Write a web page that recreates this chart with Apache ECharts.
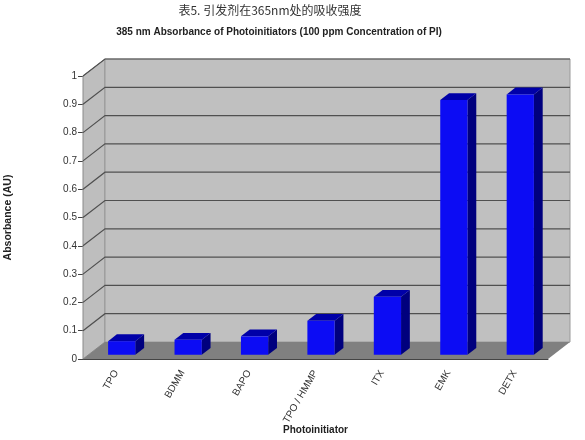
<!DOCTYPE html>
<html>
<head>
<meta charset="utf-8">
<script src="https://cdn.jsdelivr.net/npm/echarts@6/dist/echarts.min.js"></script>
<style>
  html, body { margin: 0; padding: 0; background: #fff; }
  #chart { width: 585px; height: 440px; }
</style>
</head>
<body>
<div id="chart"></div>
<script>
const categories = ['TPO', 'BDMM', 'BAPO', 'TPO / HMMP', 'ITX', 'EMK', 'DETX'];
const absorbance = [0.048, 0.053, 0.065, 0.12, 0.205, 0.9, 0.92];
const yTicks = [0, 0.1, 0.2, 0.3, 0.4, 0.5, 0.6, 0.7, 0.8, 0.9, 1];

// depth of the fake 3d box, in pixels
const DX = 22;
const DY = -17;
const barFront = 0.25;
const barBack = 0.65;
const barWidth = 0.41;

const chart = echarts.init(document.getElementById('chart'));

function renderWalls(params, api) {
    const cs = params.coordSys;
    const x0 = cs.x, x1 = cs.x + cs.width;
    const yt = cs.y, yb = cs.y + cs.height;
    const children = [
        {
            type: 'polygon',
            shape: { points: [[x0, yb], [x0, yt], [x0 + DX, yt + DY], [x0 + DX, yb + DY]] },
            style: { fill: '#bebebe', stroke: '#8a8a8a', lineWidth: 1 },
        },
        {
            type: 'rect',
            shape: { x: x0 + DX, y: yt + DY, width: x1 - x0, height: yb - yt },
            style: { fill: '#c0c0c0', stroke: '#9a9a9a', lineWidth: 1 },
        },
        {
            type: 'polygon',
            shape: { points: [[x0, yb], [x1, yb], [x1 + DX, yb + DY], [x0 + DX, yb + DY]] },
            style: { fill: '#808080' },
        },
    ];
    yTicks.forEach((v) => {
        if (v === 0) return;
        const y = api.coord([0, v])[1];
        children.push({
            type: 'polyline',
            shape: { points: [[x0, y], [x0 + DX, y + DY], [x1 + DX, y + DY]] },
            style: { fill: null, stroke: '#505050', lineWidth: 1.2 },
        });
    });
    return { type: 'group', children: children };
}

function renderBar(params, api) {
    const idx = api.value(0);
    const top = api.coord([idx, api.value(1)]);
    const base = api.coord([idx, 0]);
    const w = api.size([1, 0])[0] * barWidth;
    const L = top[0] - w / 2, R = top[0] + w / 2;
    const T = top[1], B = base[1];
    const fx = barFront * DX, fy = barFront * DY;
    const bx = barBack * DX, by = barBack * DY;
    return {
        type: 'group',
        children: [
            {
                type: 'polygon',
                shape: { points: [[R + fx, T + fy], [R + bx, T + by], [R + bx, B + by], [R + fx, B + fy]] },
                style: { fill: '#00007e' },
            },
            {
                type: 'polygon',
                shape: { points: [[L + fx, T + fy], [R + fx, T + fy], [R + bx, T + by], [L + bx, T + by]] },
                style: { fill: '#0000a8' },
            },
            {
                type: 'rect',
                shape: { x: L + fx, y: T + fy, width: w, height: B - T },
                style: { fill: '#0c0cf4' },
            },
        ],
    };
}

const option = {
    backgroundColor: '#fff',
    animation: false,
    title: [
        {
            text: '表5. 引发剂在365nm处的吸收强度',
            left: 265,
            top: -1,
            textAlign: 'center',
            textStyle: { fontFamily: 'Noto Sans CJK SC', fontSize: 12, fontWeight: 'normal', color: '#333' },
        },
        {
            text: '385 nm Absorbance of Photoinitiators (100 ppm Concentration of PI)',
            left: 274,
            top: 22,
            textAlign: 'center',
            textStyle: { fontFamily: 'Liberation Sans', fontSize: 10, fontWeight: 'bold', color: '#222' },
        },
    ],
    grid: { left: 83, right: 37, top: 76, bottom: 81, outerBoundsMode: 'none' },
    xAxis: {
        type: 'category',
        data: categories,
        name: 'Photoinitiator',
        nameLocation: 'middle',
        nameGap: 66,
        nameMoveOverlap: false,
        nameTextStyle: { fontFamily: 'Liberation Sans', fontSize: 10, fontWeight: 'bold', color: '#222' },
        axisLine: { lineStyle: { color: '#444' } },
        axisTick: { length: 5, lineStyle: { color: '#444' } },
        axisLabel: { rotate: 60, fontSize: 10, margin: 12, color: '#333', fontFamily: 'Liberation Sans' },
    },
    yAxis: {
        type: 'value',
        min: 0,
        max: 1,
        interval: 0.1,
        name: 'Absorbance (AU)',
        nameLocation: 'middle',
        nameGap: 69,
        nameMoveOverlap: false,
        nameTextStyle: { fontFamily: 'Liberation Sans', fontSize: 10.5, fontWeight: 'bold', color: '#222' },
        axisLine: { show: true, lineStyle: { color: '#444' } },
        axisTick: { show: true, length: 5, lineStyle: { color: '#444' } },
        splitLine: { show: false },
        axisLabel: { fontSize: 10, margin: 6, color: '#333', fontFamily: 'Liberation Sans' },
    },
    series: [
        {
            type: 'custom',
            z: 1,
            silent: true,
            renderItem: renderWalls,
            data: [[0, 0]],
        },
        {
            type: 'custom',
            z: 3,
            renderItem: renderBar,
            data: absorbance.map((v, i) => [i, v]),
        },
    ],
};

chart.setOption(option);
</script>
</body>
</html>
